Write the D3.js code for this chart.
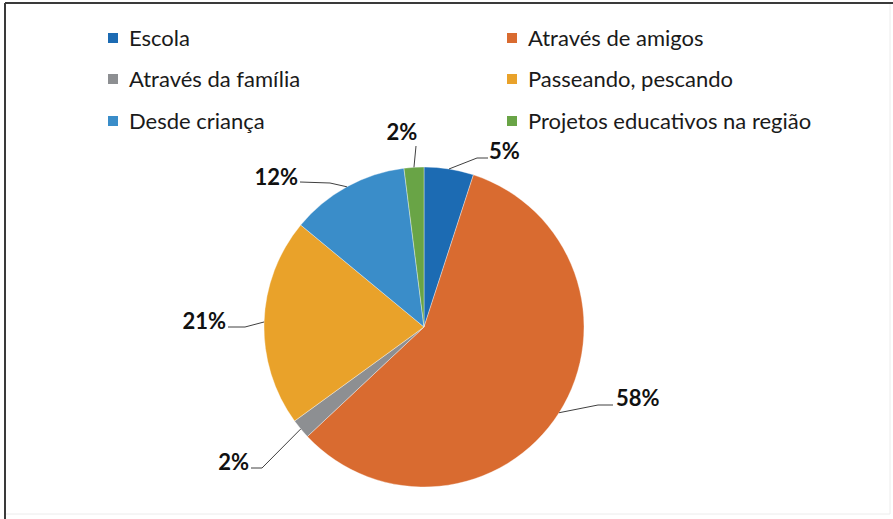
<!DOCTYPE html>
<html>
<head>
<meta charset="utf-8">
<script src="https://cdn.jsdelivr.net/npm/d3@7"></script>
<style>
  html, body { margin: 0; padding: 0; background: #fff; }
  svg { display: block; }
</style>
</head>
<body>
<svg id="chart" width="893" height="519"></svg>
<script>
// Como os entrevistados conheceram o lugar (percentual das respostas)
const categories = [
  "Escola",
  "Através de amigos",
  "Através da família",
  "Passeando, pescando",
  "Desde criança",
  "Projetos educativos na região"
];
const values = [5, 58, 2, 21, 12, 2];
const valueLabels = ["5%", "58%", "2%", "21%", "12%", "2%"];
const colors = ["#1c6bb3", "#d96b30", "#8d8f92", "#e9a22a", "#3a8dc9", "#69a446"];

// Label placement: text anchor point, text-anchor side, and elbow of the leader line
const labelLayout = [
  { x: 489, y: 159, anchor: "start",  elbow: [477, 158], end: [488, 158] },
  { x: 616, y: 406, anchor: "start",  elbow: [598, 405], end: [613, 405] },
  { x: 249, y: 470, anchor: "end",    elbow: [262, 468], end: [251, 468] },
  { x: 226, y: 329, anchor: "end",    elbow: [245, 327], end: [228, 327] },
  { x: 298, y: 185, anchor: "end",    elbow: [330, 183], end: [300, 182] },
  { x: 402, y: 140, anchor: "middle", elbow: [416, 146], end: [416, 146] }
];

const W = 893, H = 519;
const cx = 424, cy = 327, R = 160;

const svg = d3.select("#chart");

// chart frame
svg.append("rect").attr("x", 0).attr("y", 0).attr("width", W).attr("height", H).attr("fill", "#fff");
svg.append("line").attr("x1", 5).attr("y1", 3).attr("x2", W).attr("y2", 3)
  .attr("stroke", "#3a3a3a").attr("stroke-width", 2);
svg.append("line").attr("x1", 5).attr("y1", 3).attr("x2", 5).attr("y2", H)
  .attr("stroke", "#3a3a3a").attr("stroke-width", 2);
svg.append("line").attr("x1", 890).attr("y1", 4).attr("x2", 890).attr("y2", 514)
  .attr("stroke", "#ececec").attr("stroke-width", 1);
svg.append("line").attr("x1", 6).attr("y1", 514).attr("x2", 890).attr("y2", 514)
  .attr("stroke", "#ececec").attr("stroke-width", 1);

const color = d3.scaleOrdinal().domain(categories).range(colors);

const pie = d3.pie().sort(null).value(d => d.value);
const data = categories.map((c, i) => ({ name: c, value: values[i], label: valueLabels[i], layout: labelLayout[i] }));
const arcs = pie(data);
const arc = d3.arc().innerRadius(0).outerRadius(R);

const g = svg.append("g").attr("transform", `translate(${cx},${cy})`);
g.selectAll("path.slice")
  .data(arcs)
  .join("path")
  .attr("class", "slice")
  .attr("d", arc)
  .attr("fill", d => color(d.data.name))
  .attr("stroke", "#ffffff")
  .attr("stroke-opacity", 0.6)
  .attr("stroke-width", 0.6);

// leader lines and value labels
const edgePoint = d => {
  const a = (d.startAngle + d.endAngle) / 2;
  return [cx + R * Math.sin(a), cy - R * Math.cos(a)];
};
const fontFamily = "Lato, 'Open Sans', sans-serif";

svg.selectAll("polyline.leader")
  .data(arcs)
  .join("polyline")
  .attr("class", "leader")
  .attr("points", d => {
    const p = edgePoint(d);
    return [p, d.data.layout.elbow, d.data.layout.end].map(q => q.join(",")).join(" ");
  })
  .attr("fill", "none")
  .attr("stroke", "#404040")
  .attr("stroke-width", 1);

svg.selectAll("text.value")
  .data(arcs)
  .join("text")
  .attr("class", "value")
  .attr("x", d => d.data.layout.x)
  .attr("y", d => d.data.layout.y)
  .attr("text-anchor", d => d.data.layout.anchor)
  .attr("font-family", fontFamily)
  .attr("font-weight", "bold")
  .attr("font-size", 22)
  .attr("fill", "#111")
  .text(d => d.data.label);

// legend, two columns filled row by row
const legendCols = [108, 507];
const legendRows = [38, 79, 121];
const legend = svg.selectAll("g.legend")
  .data(categories)
  .join("g")
  .attr("class", "legend")
  .attr("transform", (d, i) => `translate(${legendCols[i % 2]},${legendRows[Math.floor(i / 2)]})`);
legend.append("rect")
  .attr("x", 0).attr("y", -5).attr("width", 10).attr("height", 10)
  .attr("fill", d => color(d));
legend.append("text")
  .attr("x", 21).attr("y", 0).attr("dy", "0.35em")
  .attr("font-family", fontFamily)
  .attr("font-size", 22)
  .attr("fill", "#1a1a1a")
  .text(d => d);
</script>
</body>
</html>
